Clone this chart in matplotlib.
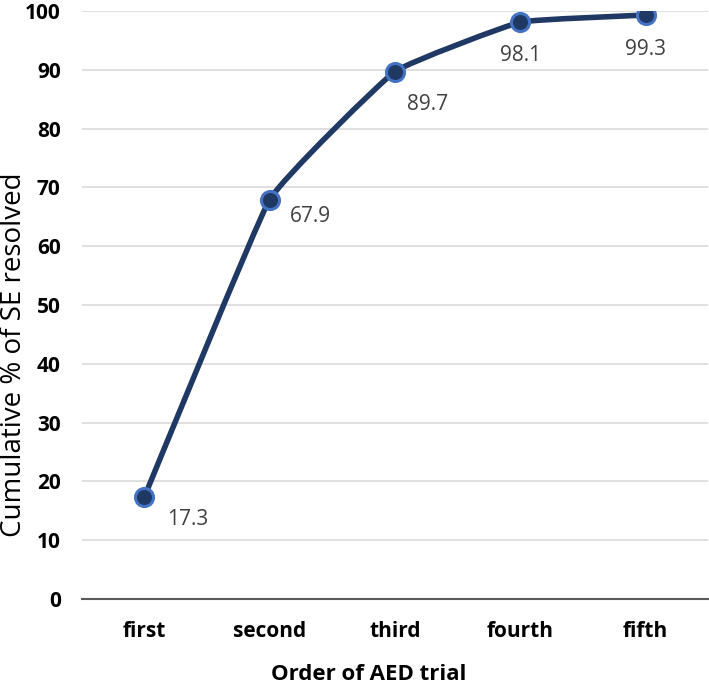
import matplotlib
matplotlib.use("Agg")
import matplotlib.pyplot as plt
from matplotlib.path import Path
from matplotlib.patches import PathPatch

categories = ["first", "second", "third", "fourth", "fifth"]
values = [17.3, 67.9, 89.7, 98.1, 99.3]
label_offsets_px = [(43, -22), (41, -17), (33, -33), (0, -33), (0, -34)]

plt.rcParams['font.family'] = ['Open Sans', 'DejaVu Sans']

fig = plt.figure(figsize=(7.09, 6.85), dpi=100)
ax = fig.add_axes([0.115, 0.1255, 0.884, 0.8585])

x = list(range(len(categories)))

# Lightly smoothed line through the data points (cubic Bezier segments)
tension = 1 / 20
pts = list(zip(x, values))
verts = [pts[0]]
codes = [Path.MOVETO]
n = len(pts)
for i in range(n - 1):
    p0 = pts[i - 1] if i > 0 else pts[i]
    p1 = pts[i]
    p2 = pts[i + 1]
    p3 = pts[i + 2] if i + 2 < n else pts[i + 1]
    c1 = (p1[0] + (p2[0] - p0[0]) * tension, p1[1] + (p2[1] - p0[1]) * tension)
    c2 = (p2[0] - (p3[0] - p1[0]) * tension, p2[1] - (p3[1] - p1[1]) * tension)
    verts += [c1, c2, p2]
    codes += [Path.CURVE4, Path.CURVE4, Path.CURVE4]
ax.add_patch(PathPatch(Path(verts, codes), facecolor="none", edgecolor="#203864",
                       lw=4, zorder=3, capstyle="round", joinstyle="round"))
ax.plot(x, values, linestyle="none", marker="o", markersize=13,
        markerfacecolor="#203864", markeredgecolor="#4472C4", markeredgewidth=2.2,
        zorder=4)

for xi, v, (dx, dy) in zip(x, values, label_offsets_px):
    ax.annotate(f"{v}", (xi, v), xytext=(dx * 0.72, dy * 0.72), textcoords="offset points",
                ha="center", va="center", fontsize=15, color="#404040")

ax.set_xlim(-0.5, 4.5)
ax.set_ylim(0, 100)
ax.set_yticks(range(0, 101, 10))
ax.set_xticks(x)
ax.set_xticklabels(categories)
ax.grid(axis="y", color="#D9D9D9", lw=1.2)
ax.set_axisbelow(True)
for s in ["top", "right", "left"]:
    ax.spines[s].set_visible(False)
ax.spines["bottom"].set_color("#595959")
ax.spines["bottom"].set_linewidth(1.5)
ax.tick_params(length=0, labelsize=15)
ax.tick_params(axis="y", pad=15)
ax.tick_params(axis="x", pad=16)
for lbl in ax.get_xticklabels() + ax.get_yticklabels():
    lbl.set_fontweight("bold")
    lbl.set_color("#000000")
ax.set_ylabel("Cumulative % of SE resolved", fontsize=20)
ax.yaxis.label.set_va("center")
ax.yaxis.set_label_coords(-0.108, 0.415)
ax.set_xlabel("Order of AED trial", fontsize=16, fontweight="bold")
ax.xaxis.label.set_va("center")
ax.xaxis.set_label_coords(0.458, -0.129)

fig.savefig("out.png", dpi=100)
